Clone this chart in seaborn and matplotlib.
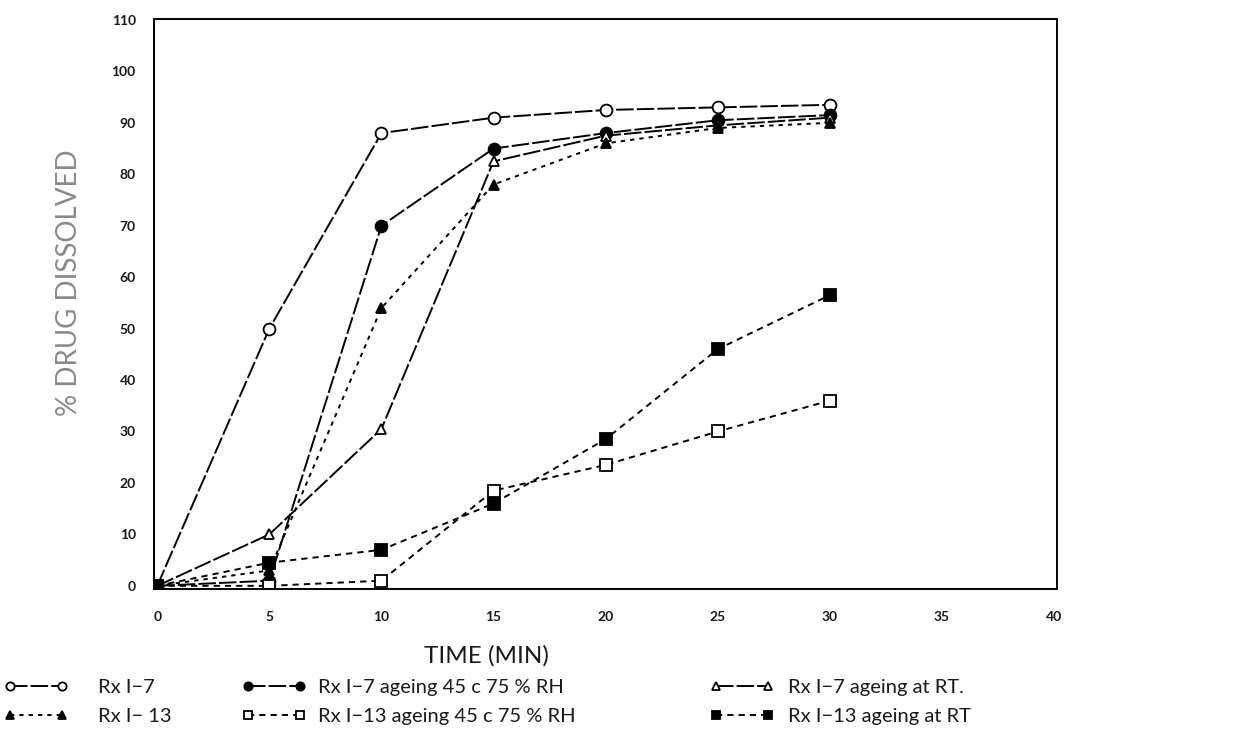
import matplotlib
matplotlib.use("Agg")
import matplotlib.pyplot as plt
import seaborn as sns
import pandas as pd

# Dissolution time points (minutes)
time_min = [0, 5, 10, 15, 20, 25, 30]

# % drug dissolved for each formulation / storage condition
rx17 = [0, 50, 88, 91, 92.5, 93, 93.5]
rx17_45c = [0, 1, 70, 85, 88, 90.5, 91.5]
rx17_rt = [0, 10, 30.5, 82.5, 87.5, 89.5, 91]
rx113 = [0, 3, 54, 78, 86, 89, 90]
rx113_45c = [0, 0, 1, 18.5, 23.5, 30, 36]
rx113_rt = [0, 4.5, 7, 16, 28.5, 46, 56.5]

labels = [
    "Rx I\u22127",
    "Rx I\u22127 ageing 45 c 75 % RH",
    "Rx I\u22127 ageing at RT.",
    "Rx I\u2212 13",
    "Rx I\u221213 ageing 45 c 75 % RH",
    "Rx I\u221213 ageing at RT",
]
x_ticks = [0, 5, 10, 15, 20, 25, 30, 35, 40]
y_ticks = [0, 10, 20, 30, 40, 50, 60, 70, 80, 90, 100, 110]

sns.set_theme(style="white")
plt.rcParams["font.family"] = ["Lato", "DejaVu Sans"]

fig = plt.figure(figsize=(12.41, 7.56), dpi=100)
ax = fig.add_axes([0.124, 0.221, 0.728, 0.754])

long_dash = (0, (9, 1.6))
short_dash = (0, (3.2, 2.6))
dotted = (0, (2.2, 2.6))

styles = [
    dict(marker="o", mfc="white", ms=8.5, ls=long_dash),
    dict(marker="o", mfc="black", ms=8.5, ls=long_dash),
    dict(marker="^", mfc="white", ms=7.5, ls=long_dash),
    dict(marker="^", mfc="black", ms=7.5, ls=dotted),
    dict(marker="s", mfc="white", ms=8.5, ls=short_dash),
    dict(marker="s", mfc="black", ms=8.5, ls=short_dash),
]
series = [rx17, rx17_45c, rx17_rt, rx113, rx113_45c, rx113_rt]

handles = []
for vals, lab, st in zip(series, labels, styles):
    df = pd.DataFrame({"time": time_min, "pct": vals})
    sns.lineplot(data=df, x="time", y="pct", ax=ax, color="black",
                 marker=st["marker"], markersize=st["ms"],
                 markerfacecolor=st["mfc"], markeredgecolor="black",
                 markeredgewidth=1.3, linestyle=st["ls"], linewidth=1.4,
                 label=lab, legend=False)
    handles.append(ax.lines[-1])

ax.set_xlim(-0.15, 40.15)
ax.set_ylim(-0.6, 110.2)
ax.set_xticks(x_ticks)
ax.set_yticks(y_ticks)
ax.set_xticklabels([str(v) for v in x_ticks])
ax.set_yticklabels([str(v) for v in y_ticks])
ax.set_xlabel("")
ax.set_ylabel("")
for side in ["left", "right", "top", "bottom"]:
    ax.spines[side].set_visible(True)
    ax.spines[side].set_color("black")
    ax.spines[side].set_linewidth(1.4)
ax.tick_params(axis="both", which="major", direction="out", length=4,
               width=1.0, color="black", labelsize=10, pad=9)
for t in ax.get_xticklabels() + ax.get_yticklabels():
    t.set_fontweight("bold")
    t.set_color("#1a1a1a")
ax.tick_params(axis="x", pad=12)

fig.text(0.392, 0.133, "TIME (MIN)", ha="center", va="center",
         fontsize=17.5, color="#1a1a1a")
fig.text(0.056, 0.626, "% DRUG DISSOLVED", ha="center", va="center",
         rotation=90, fontsize=20, color="#8a8a8a")

# Legend drawn as three columns below the axes
cols = [(0, 3, 0.003, 1.5), (1, 4, 0.195, 0.55), (2, 5, 0.572, 0.7)]
for i, j, x0, pad in cols:
    fig.legend([handles[i], handles[j]], [labels[i], labels[j]],
               loc="center left", bbox_to_anchor=(x0, 0.071), ncol=1,
               numpoints=2, handlelength=3.2, handletextpad=pad,
               labelspacing=0.6, frameon=False, borderpad=0,
               borderaxespad=0, fontsize=14.5, labelcolor="#1a1a1a",
               markerscale=0.7)

fig.savefig("out.png", dpi=100, facecolor="white")
